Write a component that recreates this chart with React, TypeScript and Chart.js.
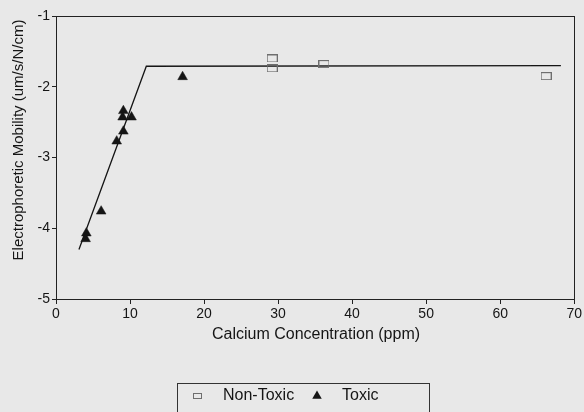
import { useEffect, useRef } from "react";
import { Chart, registerables } from "chart.js";

Chart.register(...registerables);

// Calcium concentration (ppm) vs electrophoretic mobility (um/s/N/cm)
const nonToxicCa = [29.2, 29.2, 36.2, 66.2];
const nonToxicMobility = [-1.6, -1.74, -1.68, -1.85];

const toxicCa = [9.1, 9.0, 10.2, 9.1, 8.2, 6.1, 4.1, 4.0, 17.1];
const toxicMobility = [-2.34, -2.43, -2.43, -2.63, -2.77, -3.76, -4.07, -4.15, -1.86];

// Piecewise fit: rising segment, then a plateau
const fitCa = [3.1, 12.2, 68.2];
const fitMobility = [-4.3, -1.71, -1.7];

const xTickValues = [0, 10, 20, 30, 40, 50, 60, 70];
const yTickValues = [-5, -4, -3, -2, -1];

const seriesLabels = ["Non-Toxic", "Toxic"];
const xTitle = "Calcium Concentration (ppm)";
const yTitle = "Electrophoretic Mobility (um/s/N/cm)";

const FONT = "'Liberation Sans', Arial, sans-serif";
const INK = "#151515";
const BG = "#e8e8e8";

function makeOpenRect(w: number, h: number, color: string): HTMLCanvasElement {
  const c = document.createElement("canvas");
  c.width = w + 1;
  c.height = h + 1;
  const ctx = c.getContext("2d")!;
  ctx.strokeStyle = color;
  ctx.lineWidth = 1;
  ctx.strokeRect(0.5, 0.5, w, h);
  return c;
}

export default function App() {
  const canvasRef = useRef<HTMLCanvasElement | null>(null);

  useEffect(() => {
    document.body.style.margin = "0";
    const canvas = canvasRef.current;
    if (!canvas) return;

    const squareMarker = makeOpenRect(10, 7, "#6e6e6e");
    const legendSquare = makeOpenRect(8, 5, "#6e6e6e");

    const background = {
      id: "background",
      beforeDraw(chart: any) {
        const { ctx, width, height } = chart;
        ctx.save();
        ctx.fillStyle = BG;
        ctx.fillRect(0, 0, width, height);
        ctx.restore();
      },
    };

    const frame = {
      id: "frame",
      afterDatasetsDraw(chart: any) {
        const { ctx, chartArea } = chart;
        ctx.save();
        ctx.strokeStyle = "#222";
        ctx.lineWidth = 1;
        ctx.strokeRect(
          Math.round(chartArea.left) + 0.5,
          Math.round(chartArea.top) + 0.5,
          Math.round(chartArea.right - chartArea.left),
          Math.round(chartArea.bottom - chartArea.top)
        );
        ctx.restore();
      },
    };

    const axisTitles = {
      id: "axisTitles",
      afterDraw(chart: any) {
        const { ctx } = chart;
        ctx.save();
        ctx.fillStyle = INK;
        ctx.textAlign = "center";
        ctx.textBaseline = "middle";
        ctx.font = `15px ${FONT}`;
        ctx.translate(19, 140);
        ctx.rotate(-Math.PI / 2);
        ctx.fillText(yTitle, 0, 0);
        ctx.restore();

        ctx.save();
        ctx.fillStyle = INK;
        ctx.textAlign = "center";
        ctx.textBaseline = "middle";
        ctx.font = `16px ${FONT}`;
        ctx.fillText(xTitle, 316, 335);
        ctx.restore();
      },
    };

    const boxedLegend = {
      id: "boxedLegend",
      afterDraw(chart: any) {
        const { ctx } = chart;
        const ds = chart.data.datasets;
        ctx.save();
        ctx.strokeStyle = "#333";
        ctx.lineWidth = 1;
        ctx.strokeRect(177.5, 383.5, 252, 40);
        const cy = 396;
        ctx.drawImage(legendSquare, 197 - 4, cy - 3);
        ctx.fillStyle = INK;
        ctx.font = `16px ${FONT}`;
        ctx.textBaseline = "middle";
        ctx.textAlign = "left";
        ctx.fillText(ds[0].label, 223, cy);
        // filled triangle marker
        const r = 5.5;
        ctx.beginPath();
        ctx.moveTo(317, cy - r);
        ctx.lineTo(317 + r * 0.866, cy + r / 2);
        ctx.lineTo(317 - r * 0.866, cy + r / 2);
        ctx.closePath();
        ctx.fill();
        ctx.fillText(ds[1].label, 342, cy);
        ctx.restore();
      },
    };

    const chart = new Chart(canvas, {
      type: "scatter",
      data: {
        datasets: [
          {
            label: seriesLabels[0],
            data: nonToxicCa.map((x, i) => ({ x, y: nonToxicMobility[i] })),
            pointStyle: squareMarker as any,
            pointRadius: 5,
            backgroundColor: "rgba(0,0,0,0)",
            borderColor: "#6e6e6e",
          },
          {
            label: seriesLabels[1],
            data: toxicCa.map((x, i) => ({ x, y: toxicMobility[i] })),
            pointStyle: "triangle",
            pointRadius: 5.6,
            backgroundColor: INK,
            borderColor: INK,
            borderWidth: 0.5,
          },
          {
            label: "fit",
            type: "line" as any,
            data: fitCa.map((x, i) => ({ x, y: fitMobility[i] })),
            showLine: true,
            pointRadius: 0,
            borderColor: INK,
            borderWidth: 1.3,
            fill: false,
            tension: 0,
          } as any,
        ],
      },
      options: {
        responsive: false,
        animation: false,
        layout: { padding: { top: 16, left: 0, right: 0, bottom: 0 } },
        plugins: {
          legend: { display: false },
          tooltip: { enabled: false },
        },
        scales: {
          x: {
            type: "linear",
            min: 0,
            max: 70,
            afterFit(scale: any) {
              scale.height = 113;
            },
            afterBuildTicks(scale: any) {
              scale.ticks = xTickValues.map((v) => ({ value: v }));
            },
            ticks: {
              color: INK,
              font: { family: FONT, size: 14 },
              padding: 2,
              maxRotation: 0,
            },
            grid: {
              drawOnChartArea: false,
              drawTicks: true,
              tickLength: 5,
              color: "#222",
            },
            border: { display: true, color: "#222", width: 1 },
          },
          y: {
            type: "linear",
            min: -5,
            max: -1,
            afterFit(scale: any) {
              scale.width = 56;
            },
            afterBuildTicks(scale: any) {
              scale.ticks = yTickValues.map((v) => ({ value: v }));
            },
            ticks: {
              color: INK,
              font: { family: FONT, size: 14 },
              padding: 2,
            },
            grid: {
              drawOnChartArea: false,
              drawTicks: true,
              tickLength: 4,
              color: "#222",
            },
            border: { display: true, color: "#222", width: 1 },
          },
        },
      },
      plugins: [background, frame, axisTitles, boxedLegend],
    });

    return () => chart.destroy();
  }, []);

  return <canvas ref={canvasRef} width={584} height={412} style={{ display: "block" }} />;
}
